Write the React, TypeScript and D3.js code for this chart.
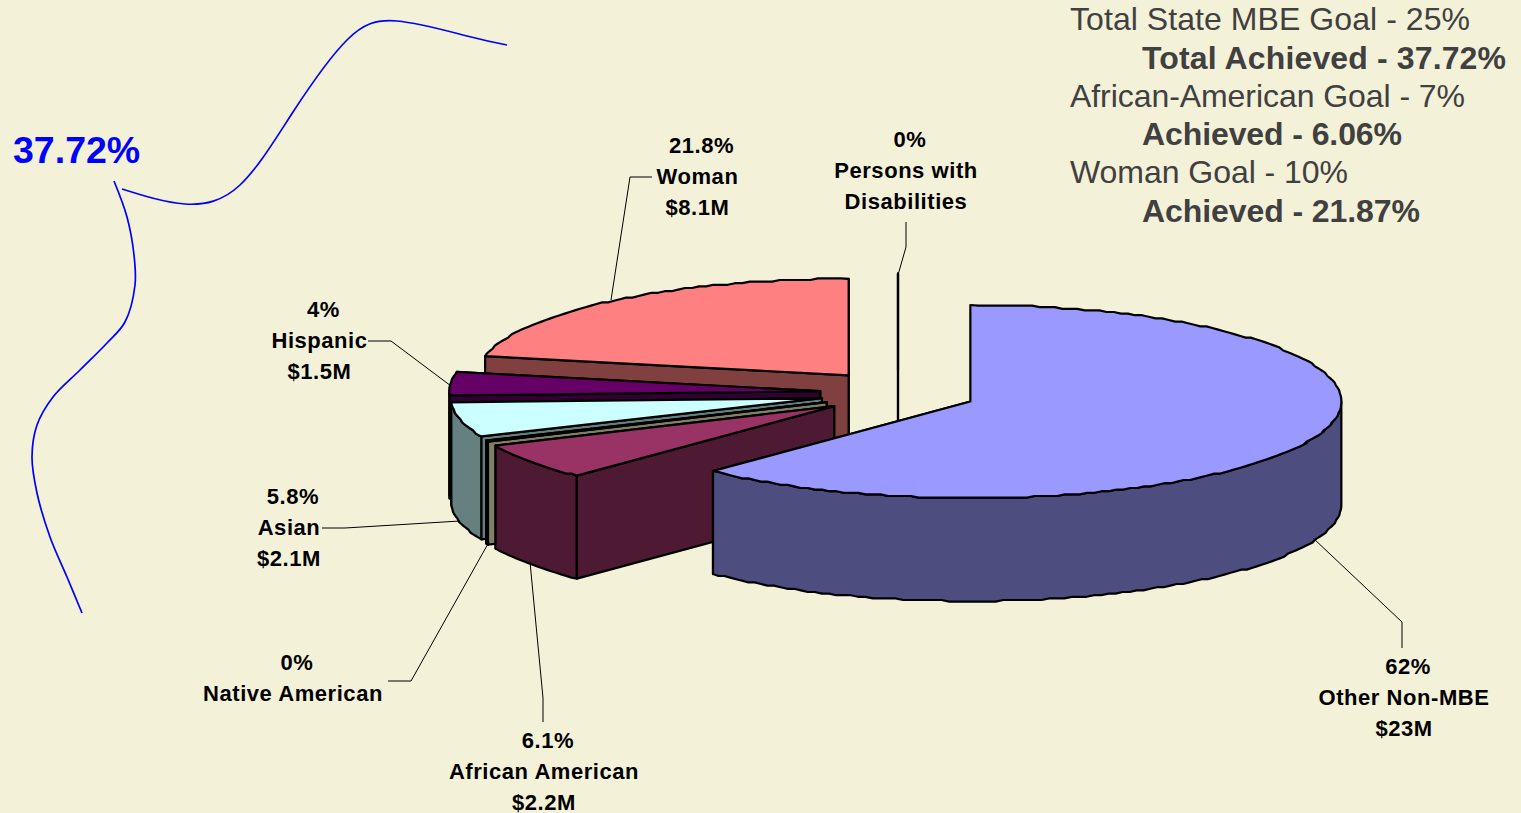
import React from "react";
import * as d3 from "d3";

// ---------- data ----------
const categories = ["Other Non-MBE", "African American", "Native American", "Asian", "Hispanic", "Woman", "Persons with Disabilities"];
const shares = [62.2, 6.1, 0.2, 5.8, 3.9, 21.8, 0];
const topColors = ["#9999FF", "#993366", "#FFFFCC", "#CCFFFF", "#660066", "#FF8080", "#000000"];
const wallColors = ["#4D4D80", "#4D1933", "#808066", "#668080", "#330033", "#804040", "#000000"];
const paintOrder = [5, 6, 4, 3, 2, 1, 0];

const labelLines = [
  ["62%", "Other Non-MBE", "$23M"],
  ["6.1%", "African American", "$2.2M"],
  ["0%", "Native American"],
  ["5.8%", "Asian", "$2.1M"],
  ["4%", "Hispanic", "$1.5M"],
  ["21.8%", "Woman", "$8.1M"],
  ["0%", "Persons with", "Disabilities"],
];
const labelCenters: [number, number][] = [
  [1404, 674], [544, 748], [293, 670], [289, 504], [319.5, 317], [697.5, 153], [906, 147],
];
const leaders: [number, number][][] = [
  [[1313, 538], [1402, 622], [1402, 648]],
  [[530, 562], [543, 698], [543, 722]],
  [[489, 542], [411, 681], [388, 681]],
  [[460, 521], [345, 528], [322, 528]],
  [[451, 386], [391, 341], [368, 341]],
  [[611, 300], [630, 177], [652, 177]],
  [[898, 275], [906, 247], [906, 222]],
];

const goalLines = [
  { t: "Total State MBE Goal - 25%", b: false },
  { t: "Total Achieved - 37.72%", b: true },
  { t: "African-American Goal - 7%", b: false },
  { t: "Achieved - 6.06%", b: true },
  { t: "Woman Goal - 10%", b: false },
  { t: "Achieved - 21.87%", b: true },
];
const goalBaselines = [30, 69, 107, 145, 183, 222];
const goalWidths = [400, 364, 395, 260, 278, 278];

const curveA: [number, number][] = [[122, 189], [185, 204], [240, 185], [293, 112], [347, 40], [397, 21], [467, 36], [507, 45]];
const curveB: [number, number][] = [[114, 181], [127, 217], [134, 255], [135, 285], [125, 322], [107, 343], [80, 370], [53, 397], [37, 425], [32, 457], [37, 493], [50, 537], [67, 577], [82, 613]];

// ---------- projection ----------
const W = 1521, H = 813;
const cx = 898, cy = 393;
const rx = 371, ry = 96.5, depth = 103;
const exX = 78, exY = 22.8;
const D = Math.PI / 180;
const JAG = 1.6;

const angleToX = d3.scaleLinear().domain([-1, 1]).range([-rx, rx]);
const angleToY = d3.scaleLinear().domain([-1, 1]).range([ry, -ry]);

const arcs = d3.pie<number>().sort(null).value((d) => d).startAngle(0).endAngle(2 * Math.PI)(shares);

type Pt = [number, number];
const poly = d3.line<Pt>().x((p) => p[0]).y((p) => p[1]);

function slicePaths(i: number) {
  const a = arcs[i];
  const mid = (a.startAngle + a.endAngle) / 2;
  const ox = cx + exX * Math.sin(mid);
  const oy = cy - exY * Math.cos(mid);
  const pt = (t: number, dz = 0): Pt => [ox + angleToX(Math.sin(t)), oy + angleToY(Math.cos(t)) + dz];
  // arcs follow a coarse pixel grid, as the stepped outline of the original does
  const sample = (t0: number, t1: number, dz = 0) => {
    const n = Math.max(1, Math.ceil(Math.abs(t1 - t0) / (1.2 * D)));
    return d3.range(n + 1).map((k) => {
      const p = pt(t0 + ((t1 - t0) * k) / n, dz);
      if (k === 0 || k === n) return p;
      return [p[0], Math.round(p[1] / JAG) * JAG] as Pt;
    });
  };
  const apex: Pt = [ox, oy];
  const apexLow: Pt = [ox, oy + depth];
  const top = poly([apex, ...sample(a.startAngle, a.endAngle)])! + "Z";
  const startWall = poly([apex, pt(a.startAngle), pt(a.startAngle, depth), apexLow])! + "Z";
  const endWall = poly([apex, pt(a.endAngle), pt(a.endAngle, depth), apexLow])! + "Z";
  const lo = Math.max(a.startAngle, Math.PI / 2);
  const hi = Math.min(a.endAngle, (3 * Math.PI) / 2);
  const outer = hi > lo ? poly([...sample(lo, hi), ...sample(hi, lo, depth)])! + "Z" : null;
  return { top, startWall, endWall, outer, showStart: a.startAngle > Math.PI / 2 };
}

const smoothA = d3.line<Pt>().x((p) => p[0]).y((p) => p[1]).curve(d3.curveNatural);
const smoothB = d3.line<Pt>().x((p) => p[0]).y((p) => p[1]).curve(d3.curveCatmullRom.alpha(0.5));

const SANS = "'Liberation Sans', Arial, sans-serif";
const BG = "#F4F1D9";

export default function App() {
  return (
    <svg width={W} height={H} viewBox={`0 0 ${W} ${H}`} style={{ position: "absolute", left: 0, top: 0, background: BG, display: "block" }}>
      <rect width={W} height={H} fill={BG} />
      <path d={smoothA(curveA)!} fill="none" stroke="#0000FF" strokeWidth={1.7} />
      <path d={smoothB(curveB)!} fill="none" stroke="#0000FF" strokeWidth={1.7} />
      <text x={13} y={163} fontFamily={SANS} fontSize={37.5} fontWeight={700} fill="#0000FF">37.72%</text>

      {paintOrder.map((i) => {
        const s = slicePaths(i);
        const st = { stroke: "#000", strokeWidth: 2.2, strokeLinejoin: "round" as const };
        return (
          <g key={categories[i]}>
            <path d={s.endWall} fill={wallColors[i]} {...st} />
            {s.outer && <path d={s.outer} fill={wallColors[i]} {...st} />}
            {s.showStart && <path d={s.startWall} fill={wallColors[i]} {...st} />}
            <path d={s.top} fill={topColors[i]} {...st} />
          </g>
        );
      })}

      {leaders.map((l, i) => (
        <path key={i} d={poly(l)!} fill="none" stroke="#000" strokeWidth={1} />
      ))}

      {labelLines.map((lines, i) => (
        <text key={i} fontFamily={SANS} fontSize={22} fontWeight={700} fill="#000" textAnchor="middle" letterSpacing={0.55}>
          {lines.map((t, k) => (
            <tspan key={k} x={labelCenters[i][0] + (k === 0 ? 4 : 0)} y={labelCenters[i][1] + k * 31}>{t}</tspan>
          ))}
        </text>
      ))}

      {goalLines.map((g, i) => (
        <text key={i} x={g.b ? 1142 : 1070} y={goalBaselines[i]} textLength={goalWidths[i]} lengthAdjust="spacing" fontFamily={SANS} fontSize={32} fontWeight={g.b ? 700 : 400} fill="#404040">{g.t}</text>
      ))}
    </svg>
  );
}
